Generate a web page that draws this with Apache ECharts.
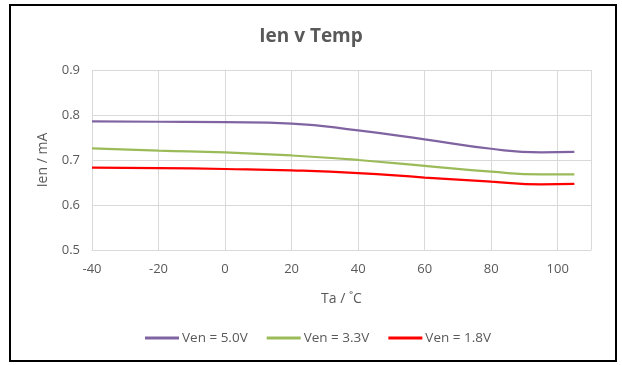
<!DOCTYPE html>
<html><head><meta charset="utf-8">
<script src="https://cdn.jsdelivr.net/npm/echarts@6/dist/echarts.min.js"></script>
<style>html,body{margin:0;padding:0;background:#fff}#c{width:622px;height:365px}</style>
</head><body><div id="c"></div>
<script>
const temps = [-40, -20, 0, 20, 40, 60, 80, 95, 105];
const ven50 = [0.786, 0.785, 0.784, 0.781, 0.766, 0.746, 0.725, 0.717, 0.718];
const ven33 = [0.726, 0.721, 0.717, 0.710, 0.700, 0.687, 0.674, 0.668, 0.668];
const ven18 = [0.683, 0.682, 0.680, 0.677, 0.671, 0.661, 0.652, 0.646, 0.647];
const seriesNames = ['Ven = 5.0V', 'Ven = 3.3V', 'Ven = 1.8V'];
const colors = ['#8064A2', '#9BBB59', '#FF0000'];
const font = 'Open Sans, Liberation Sans, sans-serif';
const txt = '#595959';
const pair = (ys) => temps.map((t, i) => [t, ys[i]]);
const chart = echarts.init(document.getElementById('c'));
chart.setOption({
  animation: false,
  title: { text: 'Ien v Temp', left: 'center', top: 22,
    textStyle: { fontFamily: font, fontSize: 19, fontWeight: 'bold', color: txt } },
  grid: { left: 92, right: 31, top: 70, bottom: 115, containLabel: false },
  legend: { bottom: 15, left: 140, itemWidth: 34, itemHeight: 3, itemGap: 19,
    icon: 'rect',
    textStyle: { fontFamily: font, fontSize: 13.5, color: txt, padding: [0, 0, 0, -2] } },
  xAxis: { type: 'value', min: -40, max: 110, interval: 20,
    name: 'Ta / ˚C', nameLocation: 'middle', nameGap: 42,
    nameTextStyle: { fontFamily: font, fontSize: 14, color: txt },
    axisLine: { lineStyle: { color: '#D9D9D9' } }, axisTick: { show: false },
    axisLabel: { fontFamily: font, fontSize: 13, color: txt, margin: 13,
      formatter: v => v > 100 ? '' : String(v) },
    splitLine: { show: true, lineStyle: { color: '#D9D9D9', width: 1 } } },
  yAxis: { type: 'value', min: 0.5, max: 0.9, interval: 0.1,
    name: 'Ien / mA', nameLocation: 'middle', nameGap: 42,
    nameTextStyle: { fontFamily: font, fontSize: 14, color: txt },
    axisLine: { show: true, lineStyle: { color: '#D9D9D9' } }, axisTick: { show: false },
    axisLabel: { fontFamily: font, fontSize: 13, color: txt, margin: 12, formatter: v => v.toFixed(1) },
    splitLine: { lineStyle: { color: '#D9D9D9', width: 1 } } },
  series: [ven50, ven33, ven18].map((d, i) => ({
    name: seriesNames[i], type: 'line', smooth: 0.5, showSymbol: false, symbol: 'none',
    data: pair(d), lineStyle: { color: colors[i], width: 2.25 }, itemStyle: { color: colors[i] }
  })),
  graphic: [{ type: 'rect', shape: { x: 10, y: 5, width: 606, height: 356 },
    style: { fill: 'none', stroke: '#000', lineWidth: 2 }, silent: true }]
});
</script></body></html>
